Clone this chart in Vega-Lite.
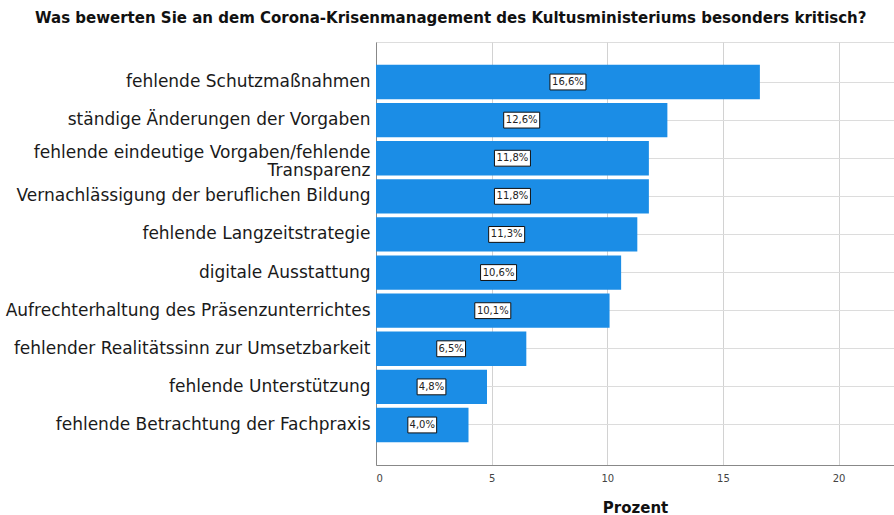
{
  "$schema": "https://vega.github.io/schema/vega-lite/v6.json",
  "autosize": {"type": "none"},
  "width": 518,
  "height": 423,
  "padding": {"left": 376, "top": 42, "right": 0, "bottom": 50},
  "background": "white",
  "title": {
    "text": "Was bewerten Sie an dem Corona-Krisenmanagement des Kultusministeriums besonders kritisch?",
    "anchor": "start",
    "frame": "group",
    "dx": -341,
    "offset": 16,
    "font": "DejaVu Sans",
    "fontSize": 15,
    "fontWeight": "bold",
    "color": "#111"
  },
  "data": {
    "values": [
      {"item": "fehlende Schutzmaßnahmen", "pct": 16.6},
      {"item": "ständige Änderungen der Vorgaben", "pct": 12.6},
      {"item": "fehlende eindeutige Vorgaben/fehlende Transparenz", "pct": 11.8},
      {"item": "Vernachlässigung der beruflichen Bildung", "pct": 11.8},
      {"item": "fehlende Langzeitstrategie", "pct": 11.3},
      {"item": "digitale Ausstattung", "pct": 10.6},
      {"item": "Aufrechterhaltung des Präsenzunterrichtes", "pct": 10.1},
      {"item": "fehlender Realitätssinn zur Umsetzbarkeit", "pct": 6.5},
      {"item": "fehlende Unterstützung", "pct": 4.8},
      {"item": "fehlende Betrachtung der Fachpraxis", "pct": 4.0}
    ]
  },
  "transform": [
    {"calculate": "replace(format(datum.pct, '.1f'), '.', ',') + '%'", "as": "label"},
    {"calculate": "datum.pct / 2", "as": "mid"}
  ],
  "encoding": {
    "y": {
      "field": "item",
      "type": "nominal",
      "sort": null,
      "scale": {"paddingInner": 0.1, "paddingOuter": 0.6},
      "axis": {
        "title": null,
        "ticks": false,
        "domain": true,
        "domainColor": "#888",
        "grid": true,
        "gridColor": "#dcdcdc",
        "labelFont": "DejaVu Sans",
        "labelFontSize": 17,
        "labelColor": "#1a1a1a",
        "labelLimit": 420,
        "labelPadding": 6,
        "labelLineHeight": 18,
        "labelOffset": {"condition": {"test": "datum.value == 'fehlende eindeutige Vorgaben/fehlende Transparenz'", "value": -5}, "value": 0},
        "labelExpr": "datum.value == 'fehlende eindeutige Vorgaben/fehlende Transparenz' ? ['fehlende eindeutige Vorgaben/fehlende', 'Transparenz'] : datum.value"
      }
    }
  },
  "layer": [
    {
      "mark": {"type": "bar", "color": "#1b8de6"},
      "encoding": {
        "x": {
          "field": "pct",
          "type": "quantitative",
          "scale": {"domain": [0, 22.4], "nice": false},
          "axis": {
            "values": [0, 5, 10, 15, 20],
            "title": "Prozent",
            "titleFont": "DejaVu Sans",
            "titleFontSize": 15,
            "titleFontWeight": "bold",
            "titleColor": "#111",
            "titlePadding": 17,
            "ticks": false,
            "domainColor": "#888",
            "grid": true,
            "gridColor": "#d2d2d2",
            "labelFont": "DejaVu Sans",
            "labelFontSize": 10,
            "labelColor": "#444",
            "labelPadding": 8
          }
        }
      }
    },
    {
      "mark": {"type": "point", "filled": true, "fill": "white", "stroke": "#111", "strokeWidth": 1, "size": 1296, "opacity": 1},
      "encoding": {
        "x": {"field": "mid", "type": "quantitative"},
        "shape": {
          "condition": {"test": "datum.pct >= 10", "value": "M-1,-0.44H1V0.44H-1Z"},
          "value": "M-0.8,-0.44H0.8V0.44H-0.8Z"
        }
      }
    },
    {
      "mark": {"type": "text", "font": "DejaVu Sans", "fontSize": 10, "color": "#222", "align": "center", "baseline": "middle"},
      "encoding": {
        "x": {"field": "mid", "type": "quantitative"},
        "text": {"field": "label"}
      }
    }
  ]
}
